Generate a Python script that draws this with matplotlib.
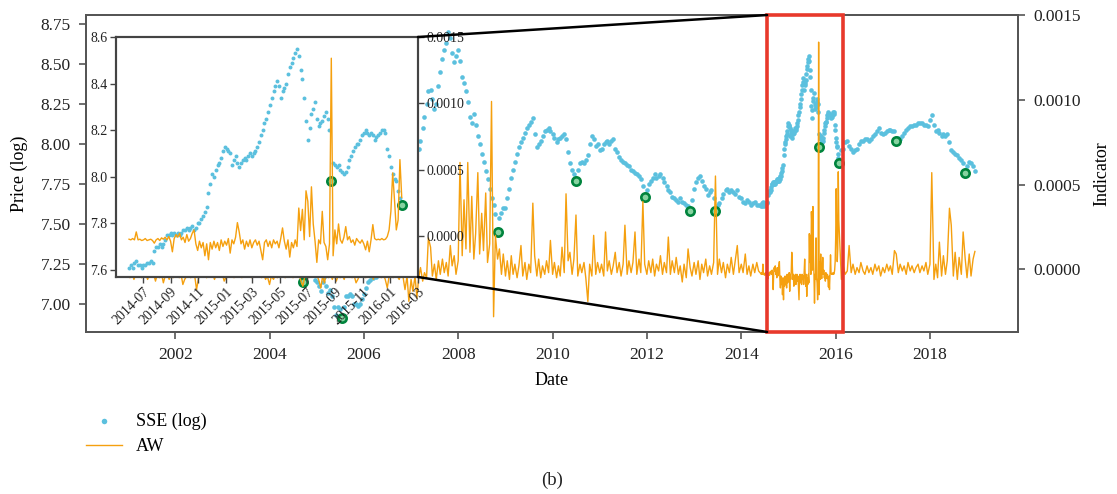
import numpy as np
import pandas as pd
import matplotlib
matplotlib.use('Agg')
import matplotlib.pyplot as plt
import matplotlib.dates as mdates
from matplotlib.patches import Rectangle, ConnectionPatch
from matplotlib.ticker import FormatStrFormatter

plt.rcParams['font.family'] = ['Liberation Serif', 'DejaVu Serif']

# SSE composite, log level, sampled on the 1st and 15th: 2001-01 .. 2014-05
sse_a = [
    7.64, 7.60, 7.59, 7.58, 7.60, 7.65, 7.65, 7.69, 7.70, 7.71, 7.71, 7.71, 7.70, 7.65, 7.56, 7.57, 7.52, 7.48, 7.41, 7.34, 7.43, 7.45, 7.44, 7.41,
    7.40, 7.28, 7.27, 7.30, 7.30, 7.35, 7.38, 7.37, 7.36, 7.36, 7.32, 7.35, 7.46, 7.44, 7.40, 7.41, 7.40, 7.38, 7.37, 7.34, 7.32, 7.30, 7.26, 7.23,
    7.22, 7.26, 7.31, 7.31, 7.31, 7.30, 7.32, 7.40, 7.33, 7.35, 7.36, 7.33, 7.31, 7.31, 7.29, 7.27, 7.27, 7.24, 7.22, 7.22, 7.20, 7.22, 7.24, 7.28,
    7.31, 7.37, 7.39, 7.43, 7.43, 7.46, 7.47, 7.44, 7.38, 7.35, 7.35, 7.27, 7.24, 7.23, 7.21, 7.19, 7.20, 7.14, 7.24, 7.23, 7.19, 7.20, 7.20, 7.15,
    7.14, 7.11, 7.08, 7.14, 7.17, 7.11, 7.07, 7.09, 7.05, 6.98, 6.93, 6.98, 6.97, 6.91, 6.98, 7.05, 7.05, 7.06, 7.05, 7.00, 7.00, 6.99, 7.00, 7.03,
    7.06, 7.10, 7.14, 7.15, 7.17, 7.16, 7.17, 7.23, 7.27, 7.41, 7.40, 7.37, 7.43, 7.45, 7.38, 7.39, 7.41, 7.43, 7.47, 7.51, 7.52, 7.58, 7.65, 7.72,
    7.89, 7.93, 7.93, 7.96, 7.97, 8.02, 8.10, 8.17, 8.25, 8.33, 8.34, 8.28, 8.22, 8.25, 8.36, 8.45, 8.53, 8.59, 8.63, 8.70, 8.66, 8.57, 8.51, 8.55,
    8.59, 8.52, 8.42, 8.38, 8.33, 8.26, 8.17, 8.13, 8.19, 8.12, 8.05, 8.00, 7.94, 7.89, 7.83, 7.78, 7.72, 7.66, 7.62, 7.56, 7.45, 7.54, 7.57, 7.60,
    7.60, 7.66, 7.72, 7.79, 7.84, 7.89, 7.94, 7.98, 8.01, 8.04, 8.07, 8.10, 8.12, 8.14, 8.16, 8.06, 7.98, 8.00, 8.02, 8.05, 8.08, 8.09, 8.10, 8.08,
    8.06, 8.04, 8.01, 8.03, 8.04, 8.05, 8.06, 8.03, 7.95, 7.88, 7.84, 7.81, 7.77, 7.84, 7.88, 7.89, 7.88, 7.90, 7.93, 8.00, 8.05, 8.03, 7.99, 8.00,
    7.96, 7.97, 8.00, 8.01, 8.02, 8.00, 8.02, 8.03, 7.97, 7.95, 7.92, 7.90, 7.89, 7.88, 7.87, 7.86, 7.84, 7.83, 7.82, 7.81, 7.80, 7.78, 7.74, 7.67,
    7.71, 7.75, 7.77, 7.79, 7.81, 7.79, 7.80, 7.81, 7.79, 7.76, 7.74, 7.71, 7.70, 7.67, 7.66, 7.65, 7.64, 7.66, 7.64, 7.63, 7.62, 7.61, 7.58, 7.65,
    7.72, 7.76, 7.79, 7.80, 7.77, 7.74, 7.72, 7.68, 7.70, 7.71, 7.66, 7.58, 7.62, 7.63, 7.66, 7.69, 7.71, 7.72, 7.70, 7.71, 7.70, 7.69, 7.71, 7.67,
    7.66, 7.64, 7.63, 7.65, 7.64, 7.62, 7.63, 7.64, 7.62, 7.62,
]
# AW indicator (units of 1e-4), same dates as sse_a
aw_a = [
    -0.3, -0.5, -0.2, -0.6, -0.3, -0.4, -0.1, -0.5, -0.3, -0.2, -0.6, -0.3, -0.4, -0.2, -0.7, -0.3, -0.5, -0.2, -0.8, -0.4, -0.3, -0.6, -0.2, -0.5,
    -0.4, -0.3, -0.5, -0.3, -0.9, -0.6, -0.4, -0.3, -0.5, -0.2, -0.4, -1.2, -0.5, -0.3, -0.4, -0.2, -0.5, -0.3, -0.4, -0.2, -0.6, -0.3, -0.4, -0.3,
    -0.3, -0.7, -0.4, -0.2, -0.4, -0.3, -0.5, -0.2, -0.4, -0.3, -0.5, -0.2, -0.3, -0.4, -0.2, -0.5, -0.3, -0.2, -0.4, -0.3, -0.5, -0.2, -0.6, -0.4,
    -0.9, -0.4, -0.6, -0.3, -0.5, -0.2, -0.4, -0.3, -0.5, -0.2, -0.4, -0.3, -0.5, -0.2, -0.4, -0.3, -0.7, -1.0, -0.4, -0.3, -0.5, -0.2, -0.4, -0.3,
    -0.4, -0.6, -1.1, -0.4, -0.8, -0.3, -0.5, -0.2, -0.6, -0.3, -0.7, -0.4, -0.5, -0.3, -0.6, -0.2, -0.4, -0.3, -0.5, -0.3, -0.8, -0.6, -0.3, -0.4,
    -0.3, -0.5, -0.2, -0.4, -0.3, -0.6, -0.2, -0.4, -0.3, -0.5, -0.3, -0.6, -1.1, -0.4, -0.3, -0.5, -0.2, -0.4, -0.6, -0.3, -0.5, -1.2, -0.4, -1.9,
    -0.6, -1.3, -0.4, -1.7, -0.5, 0.1, -0.7, -0.2, -0.5, 1.85, 1.3, -0.4, 0.3, -0.6, 0.5, -0.3, 0.6, -0.2, 0.4, -0.4, 1.4, 0.2, 0.8, -0.3,
    0.5, 6.3, 0.8, 4.1, 1.2, 6.3, 1.0, 4.3, 0.6, 2.1, 5.7, 0.9, 3.3, 1.1, 4.5, 0.4, 1.5, 9.9, -2.8, 2.0, 0.6, 1.2, -0.3, 0.9,
    -0.4, 0.5, -0.6, 0.8, -0.3, 0.3, -0.5, 0.2, 1.4, -0.4, 0.4, -0.6, 0.3, -0.2, 3.9, 0.8, -0.4, 0.6, -0.5, 0.2, -0.3, 0.5, -0.2, 1.7,
    -0.3, 0.4, -0.5, 0.2, -0.4, 1.3, -0.2, 4.45, 0.5, 1.0, -0.3, 0.6, 3.2, -0.4, 0.3, -0.2, 0.4, -0.5, -1.9, 0.3, -0.4, 2.0, -0.3, 0.4,
    -0.2, 0.3, -0.4, 2.2, -0.1, 0.5, -0.3, 0.2, 1.0, -0.2, 0.4, -0.4, 0.3, 2.6, -0.3, 0.5, -0.2, 0.4, 2.2, -0.3, 0.6, -0.2, 4.0, 0.3,
    -0.3, 0.5, -0.2, 0.6, -0.4, 0.3, -0.1, 0.8, -0.3, 0.4, -0.2, 1.9, -0.3, 0.5, -0.2, 0.7, -0.3, 0.2, -0.75, 0.3, -0.5, 1.2, 0.1, -0.4,
    0.4, -0.3, 0.5, -0.6, 0.3, -0.2, 0.6, -0.4, 0.2, -0.3, 0.4, 5.5, -0.3, 0.6, -0.2, 0.4, -0.5, 0.3, -0.2, 0.7, -0.3, 0.5, 1.4, -0.2,
    0.3, -0.2, 0.9, -0.3, 0.2, -0.4, 0.3, -0.2, 0.4, -0.1,
]

# every 4 days, 2014-06-01 .. 2016-01-26 (the zoomed window)
sse_b = [
    7.61, 7.62, 7.61, 7.63, 7.64, 7.62, 7.62, 7.61, 7.62, 7.62, 7.63, 7.63, 7.64, 7.63, 7.68, 7.70, 7.70, 7.71, 7.70, 7.71,
    7.73, 7.75, 7.75, 7.76, 7.75, 7.76, 7.75, 7.76, 7.75, 7.76, 7.77, 7.77, 7.78, 7.77, 7.78, 7.79, 7.77, 7.78, 7.80, 7.80,
    7.82, 7.83, 7.85, 7.87, 7.93, 7.97, 8.01, 8.00, 8.03, 8.05, 8.06, 8.08, 8.11, 8.13, 8.12, 8.11, 8.10, 8.05, 8.07, 8.09,
    8.06, 8.04, 8.06, 8.07, 8.08, 8.07, 8.09, 8.10, 8.09, 8.10, 8.11, 8.13, 8.15, 8.18, 8.20, 8.23, 8.25, 8.28, 8.31, 8.34,
    8.37, 8.39, 8.41, 8.39, 8.34, 8.37, 8.38, 8.40, 8.44, 8.47, 8.49, 8.51, 8.53, 8.55, 8.52, 8.46, 8.42, 8.34, 8.24, 8.16,
    8.21, 8.27, 8.29, 8.32, 8.25, 8.22, 8.23, 8.24, 8.26, 8.28, 8.25, 8.20, 7.98, 8.06, 8.05, 8.04, 8.05, 8.03, 8.02, 8.01,
    8.02, 8.04, 8.07, 8.09, 8.11, 8.13, 8.14, 8.14, 8.16, 8.18, 8.19, 8.20, 8.19, 8.18, 8.19, 8.18, 8.16, 8.17, 8.18, 8.19,
    8.20, 8.20, 8.19, 8.12, 8.09, 8.04, 8.01, 7.99, 7.98, 7.94, 7.91, 7.88,
]
aw_b = [
    -0.25, -0.3, -0.2, -0.3, 0.3, -0.3, -0.25, -0.35, -0.3, -0.2, -0.35, -0.3, -0.25, -0.35, -0.55, -0.3, -0.2, -0.35, -0.15, -0.25,
    -0.1, -0.3, -0.05, -0.4, -1.2, -0.2, 0.1, -0.1, 0.2, -0.3, -0.1, -0.5, 0.1, -0.4, -0.2, 0.2, 0.45, -0.6, -1.1, -0.4,
    -0.9, -0.5, -1.5, -0.6, -1.8, -0.5, -1.0, -0.4, -0.9, -0.5, -1.1, -0.3, -0.8, -0.4, -0.7, -0.2, -1.3, -0.3, -0.6, -0.1,
    1.0, 0.3, -0.6, -0.3, -1.0, -0.4, -0.8, -0.3, -0.9, -0.5, -0.3, -0.7, -0.4, -1.1, -1.8, -0.5, -0.3, -0.8, -0.4, -0.9,
    -0.3, -0.6, -0.4, -0.9, -0.2, 0.6, -0.4, -1.0, -0.3, -1.6, -0.5, -0.9, -0.3, -0.8, 2.1, 0.4, 2.0, -0.3, 3.4, 2.6,
    -0.05, 3.7, 0.9, -0.4, -2.0, -0.3, -0.6, 1.85, -0.5, -0.8, -1.8, -0.6, 13.4, -1.5, 0.45, -0.6, 0.9, -0.3, -0.55, -0.1,
    0.7, -0.3, -0.05, -0.5, -0.3, -0.7, -0.2, -0.4, -0.55, -0.3, -0.6, -1.05, -0.4, -1.2, -0.3, 0.85, -0.2, -0.3, -0.25, -0.3,
    -0.2, -0.3, -0.25, -0.05, 0.45, 1.85, 4.75, 2.7, 0.45, 1.2, 5.75, 2.9,
]

# 1st and 15th again, 2016-02-15 .. 2018-12-15
sse_c = [
    7.96, 7.97, 8.01, 8.02, 7.99, 7.97, 7.95, 7.96, 7.97, 8.00, 8.02, 8.02, 8.03, 8.03, 8.02, 8.03, 8.05, 8.06, 8.08, 8.10, 8.07,
    8.06, 8.07, 8.08, 8.09, 8.09, 8.08, 8.08, 8.02, 8.04, 8.03, 8.05, 8.07, 8.09, 8.10, 8.11, 8.11, 8.12, 8.12, 8.13, 8.13, 8.13, 8.12, 8.12, 8.11,
    8.15, 8.18, 8.12, 8.08, 8.09, 8.07, 8.05, 8.06, 8.05, 8.06, 8.01, 7.96, 7.95, 7.94, 7.93, 7.91, 7.90, 7.88, 7.82, 7.86, 7.89, 7.88, 7.86, 7.83,
]
aw_c = [
    -0.6, 0.2, -0.3, -0.1, 1.4, -0.2, 0.3, -0.3, 0.1, -0.2, 0.4, -0.1, -0.3, 0.2, -0.2, 0.1, -0.3, 0.3, -0.1, 0.2, -0.4,
    0.1, -0.2, 0.3, -0.1, 0.2, -0.3, 1.1, 0.9, -0.2, 0.3, -0.1, 0.2, -0.3, 0.4, -0.1, 0.2, -0.2, 0.1, 0.3, -0.2, 0.2, -0.1, 0.4, -0.3,
    0.3, 5.7, -0.6, 0.3, -0.5, 1.6, -0.4, 0.8, -0.3, 0.5, 3.6, 2.6, -0.4, 1.0, -0.6, 0.7, -0.3, 2.2, 0.6, -0.5, 0.9, -0.4, 0.6, 1.05,
]

# dates flagged by the indicator
signal_dates = ['2004-09-15', '2005-07-15', '2008-11-01', '2010-07-01', '2011-12-15', '2012-12-01',
                '2013-06-15', '2015-08-23', '2016-01-26', '2017-04-15', '2018-10-01']

dates = (pd.date_range('2001-01-01', '2014-05-15', freq='SMS')
         .append(pd.date_range('2014-06-01', periods=152, freq='4D'))
         .append(pd.date_range('2016-02-15', '2018-12-15', freq='SMS')))
sse = np.array(sse_a + sse_b + sse_c)
aw = np.array(aw_a + aw_b + aw_c) * 1e-4

sse_s = pd.Series(sse, index=dates)
sig_idx = pd.to_datetime(signal_dates)
sig_val = sse_s.loc[sig_idx].values

blue = '#5bc0de'
orange = '#f5a00f'
axis_col = '#555555'
sig_style = dict(ls='none', marker='o', ms=6, mfc='#86d3a0', mec='#00843d', mew=1.9, zorder=3)

fig = plt.figure(figsize=(11.17, 4.94), dpi=100)
ax = fig.add_axes([0.077, 0.328, 0.8344, 0.6416])

sc = ax.scatter(dates, sse, s=11, color=blue, linewidths=0, label='SSE (log)', zorder=2)
ax.plot(sig_idx, sig_val, **sig_style)
ax.set_xlim(pd.Timestamp('2000-02-10'), pd.Timestamp('2019-11-14'))
ax.set_ylim(6.825, 8.806)
ax.set_yticks(np.arange(7.0, 8.76, 0.25))
ax.yaxis.set_major_formatter(FormatStrFormatter('%.2f'))
ax.xaxis.set_major_locator(mdates.YearLocator(2))
ax.xaxis.set_major_formatter(mdates.DateFormatter('%Y'))
ax.set_xlabel('Date', fontsize=13, labelpad=6)
ax.set_ylabel('Price (log)', fontsize=13, labelpad=9)

ax2 = ax.twinx()
ln, = ax2.plot(dates, aw, color=orange, lw=1.0, label='AW')
ax2.set_ylim(-0.00037, 0.0015)
ax2.set_yticks([0, 0.0005, 0.0010, 0.0015])
ax2.yaxis.set_major_formatter(FormatStrFormatter('%.4f'))
ax2.set_ylabel('Indicator', fontsize=13, labelpad=9)

for a in (ax, ax2):
    for sp in a.spines.values():
        sp.set_color(axis_col)
        sp.set_linewidth(1.3)
    a.tick_params(colors=axis_col, labelcolor='#222222', labelsize=12.5, length=5, width=1.2, pad=6)

# highlighted window
x0 = mdates.date2num(pd.Timestamp('2014-07-20'))
x1 = mdates.date2num(pd.Timestamp('2016-03-01'))
rect = Rectangle((x0, 0), x1 - x0, 1, transform=ax2.get_xaxis_transform(),
                 fill=False, ec='#e8392b', lw=2.6, zorder=6, clip_on=False)
ax2.add_patch(rect)

# zoomed inset
ins = fig.add_axes([0.1038, 0.4393, 0.2704, 0.4858])
ins.set_facecolor('white')
win = (dates >= '2014-06-01') & (dates <= '2016-01-31')
ins.scatter(dates[win], sse[win], s=8, color=blue, linewidths=0, zorder=2)
sig_win = (sig_idx >= '2014-06-01') & (sig_idx <= '2016-01-31')
ins.plot(sig_idx[sig_win], sig_val[sig_win], **sig_style)
ins.set_xlim(pd.Timestamp('2014-05-03'), pd.Timestamp('2016-03-02'))
ins.set_ylim(7.57, 8.60)
ins.set_yticks([7.6, 7.8, 8.0, 8.2, 8.4, 8.6])
ins.yaxis.set_major_formatter(FormatStrFormatter('%.1f'))
ins.xaxis.set_major_locator(mdates.MonthLocator(bymonth=[1, 3, 5, 7, 9, 11]))
ins.xaxis.set_major_formatter(mdates.DateFormatter('%Y-%m'))

ins2 = ins.twinx()
ins2.plot(dates[win], aw[win], color=orange, lw=1.0)
ins2.set_ylim(-0.00031, 0.0015)
ins2.set_yticks([0, 0.0005, 0.0010, 0.0015])
ins2.yaxis.set_major_formatter(FormatStrFormatter('%.4f'))

for a in (ins, ins2):
    for sp in a.spines.values():
        sp.set_color('#444444')
        sp.set_linewidth(1.5)
    a.tick_params(colors='#444444', labelcolor='#222222', labelsize=10, length=4, width=1.0, pad=2)
plt.setp(ins.get_xticklabels(), rotation=45, ha='right', rotation_mode='anchor')

# lines tying the inset to the highlighted window
for ya in (1, 0):
    con = ConnectionPatch(xyA=(1, ya), coordsA=ins.transAxes,
                          xyB=(x0, ya), coordsB=ax2.get_xaxis_transform(),
                          color='black', lw=1.8, zorder=7)
    fig.add_artist(con)

fig.legend([sc, ln], ['SSE (log)', 'AW'], loc='upper left', bbox_to_anchor=(0.062, 0.198),
           frameon=False, fontsize=13, scatterpoints=1, markerscale=1.2,
           handlelength=2.0, labelspacing=0.45, handletextpad=0.8)

fig.text(0.494, 0.028, '(b)', ha='center', va='center', fontsize=13.5, color='#222222')

fig.savefig('out.png', dpi=100)
